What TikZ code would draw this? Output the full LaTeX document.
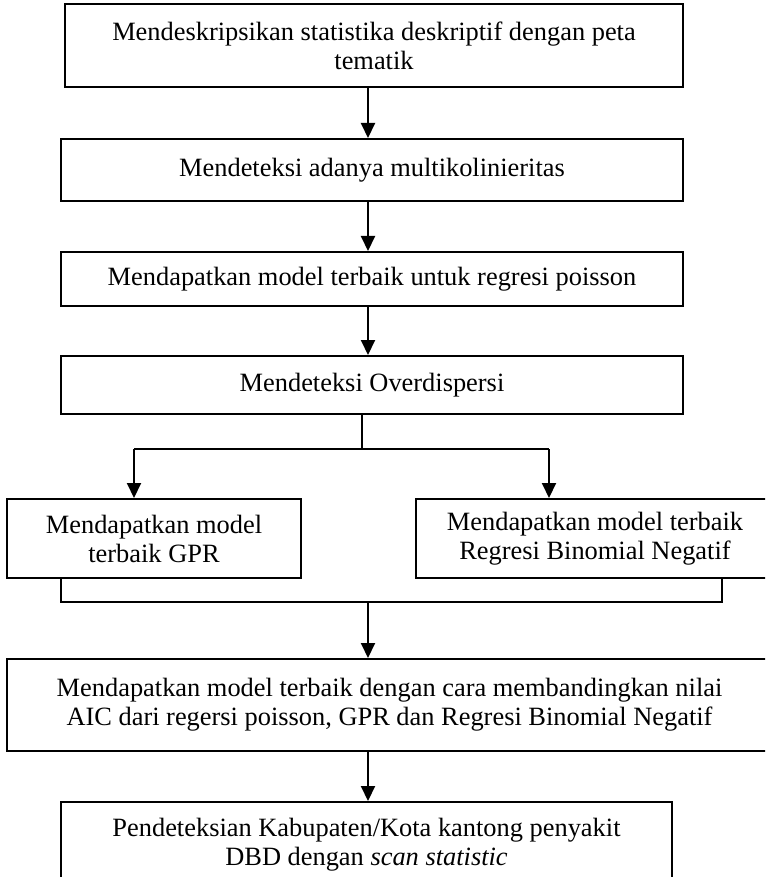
\documentclass[tikz,border=0pt]{standalone}
\usepackage{fontspec}
\setmainfont{Liberation Serif}
\usetikzlibrary{arrows.meta,positioning}

\begin{document}
\begin{tikzpicture}[
    >={Triangle[length=7.5pt,width=7pt]},
    line width=1pt,
    every node/.style={font=\fontsize{13.2}{14.5}\selectfont},
    kotak/.style={draw, rectangle, align=center, inner sep=0pt}
  ]
    \clip (0,0) rectangle (382.5pt,-438.5pt);

    % langkah utama
    \node[kotak, minimum width=309pt, minimum height=41.5pt] (desk) at (187pt,-22.75pt)
      {Mendeskripsikan statistika deskriptif dengan peta\\tematik};
    \node[kotak, minimum width=311pt, minimum height=31pt, below=25pt of desk, xshift=-1pt] (multi)
      {Mendeteksi adanya multikolinieritas};
    \node[kotak, minimum width=311pt, minimum height=27pt, below=24.5pt of multi] (pois)
      {Mendapatkan model terbaik untuk regresi poisson};
    \node[kotak, minimum width=311pt, minimum height=29pt, below=24pt of pois] (overd)
      {Mendeteksi Overdispersi};

    % cabang
    \node[kotak, minimum width=147pt, minimum height=39.5pt] (gpr) at (77pt,-269.25pt)
      {Mendapatkan model\\terbaik GPR};
    \node[kotak, minimum width=179pt, minimum height=39.5pt, right=56.5pt of gpr] (bnn)
      {Mendapatkan model terbaik\\Regresi Binomial Negatif};

    % perbandingan dan hasil akhir
    \node[kotak, minimum width=382.5pt, minimum height=46pt] (aic) at (194.75pt,-352.5pt)
      {Mendapatkan model terbaik dengan cara membandingkan nilai\\AIC dari regersi poisson, GPR dan Regresi Binomial Negatif};
    \node[kotak, minimum width=305.5pt, minimum height=42.5pt, below=24.5pt of aic, xshift=-11.5pt] (dbd)
      {Pendeteksian Kabupaten/Kota kantong penyakit\\DBD dengan \textit{scan statistic}};

    % panah
    \coordinate (ax) at (184pt,0);
    \draw[->] (desk.south -| ax) -- (multi.north -| ax);
    \draw[->] (multi.south -| ax) -- (pois.north -| ax);
    \draw[->] (pois.south -| ax) -- (overd.north -| ax);

    % percabangan
    \coordinate (cab) at (181pt,-224.5pt);
    \coordinate (cabL) at (67pt,-224.5pt);
    \coordinate (cabR) at (274.5pt,-224.5pt);
    \draw (overd.south -| cab) -- (cab);
    \draw (cabL) -- (cabR);
    \draw[->] (cabL) -- (cabL |- gpr.north);
    \draw[->] (cabR) -- (cabR |- bnn.north);

    % penggabungan
    \coordinate (gabL) at (30.5pt,-301pt);
    \coordinate (gabR) at (361pt,-301pt);
    \draw (gabL |- gpr.south) -- (gabL) -- (gabR) -- (gabR |- bnn.south);
    \draw[->] (gabL -| ax) -- (aic.north -| ax);
    \draw[->] (aic.south -| ax) -- (dbd.north -| ax);

  \end{tikzpicture}
\end{document}
